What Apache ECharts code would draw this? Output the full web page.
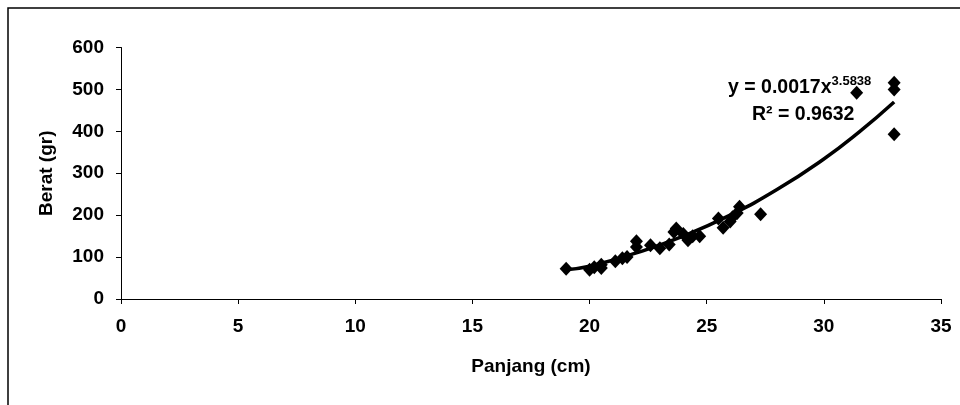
<!DOCTYPE html>
<html>
<head>
<meta charset="utf-8">
<script src="https://cdn.jsdelivr.net/npm/echarts@6/dist/echarts.min.js"></script>
<style>
  html, body { margin: 0; padding: 0; background: #fff; }
  #chart { width: 960px; height: 405px; }
</style>
</head>
<body>
<div id="chart"></div>
<script>
// Panjang (cm) vs Berat (gr)
const panjang = [19.0, 20.0, 20.2, 20.5, 20.5, 21.1, 21.4, 21.6, 22.0, 22.0, 22.6, 23.0, 23.4, 23.6, 23.7, 24.0, 24.2, 24.4, 24.7, 25.5, 25.7, 26.0, 26.1, 26.3, 26.4, 27.3, 31.4, 33.0, 33.0, 33.0]
const berat   = [72, 70, 76, 82, 74, 90, 97, 100, 138, 124, 128, 121, 130, 160, 168, 155, 140, 150, 150, 192, 170, 185, 195, 205, 220, 202, 492, 516, 500, 393]

// power trendline as drawn (y = 0.0017x^3.5838)
const trendX = [19, 20, 22, 24, 26, 28, 30, 31.5, 33]
const trendY = [70, 78, 110, 150, 200, 261, 334, 398, 470]

const xTicks = [0, 5, 10, 15, 20, 25, 30, 35]
const yTicks = [0, 100, 200, 300, 400, 500, 600]

const font = 'Liberation Sans, Arial, sans-serif'

// width of the equation text so the exponent sits right after it
const ctx = document.createElement('canvas').getContext('2d')
ctx.font = 'bold 19.5px Liberation Sans'
const eqWidth = ctx.measureText('y = 0.0017x').width

const chart = echarts.init(document.getElementById('chart'))

const option = {
  backgroundColor: '#fff',
  animation: false,
  grid: { left: 121, right: 19, top: 47.5, bottom: 106 },
  xAxis: {
    type: 'value',
    min: xTicks[0],
    max: xTicks[xTicks.length - 1],
    interval: 5,
    name: 'Panjang (cm)',
    nameLocation: 'middle',
    nameGap: 58,
    nameTextStyle: { color: '#000', fontSize: 19, fontWeight: 'bold', fontFamily: font },
    axisLine: { lineStyle: { color: '#000', width: 1 } },
    axisTick: { show: true, inside: false, length: 5, lineStyle: { color: '#000' } },
    axisLabel: { color: '#000', fontSize: 19, fontWeight: 'bold', fontFamily: font, margin: 18 },
    splitLine: { show: false }
  },
  yAxis: {
    type: 'value',
    min: yTicks[0],
    max: yTicks[yTicks.length - 1],
    interval: 100,
    name: 'Berat (gr)',
    nameLocation: 'middle',
    nameGap: 65,
    nameTextStyle: { color: '#000', fontSize: 19, fontWeight: 'bold', fontFamily: font },
    axisLine: { show: true, lineStyle: { color: '#000', width: 1 } },
    axisTick: { show: true, inside: false, length: 5, lineStyle: { color: '#000' } },
    axisLabel: { color: '#000', fontSize: 19, fontWeight: 'bold', fontFamily: font, margin: 17 },
    splitLine: { show: false }
  },
  series: [
    {
      type: 'line',
      data: trendX.map((x, i) => [x, trendY[i]]),
      smooth: true,
      symbol: 'none',
      lineStyle: { color: '#000', width: 3.5 },
      z: 2
    },
    {
      type: 'scatter',
      data: panjang.map((x, i) => [x, berat[i]]),
      symbol: 'diamond',
      symbolSize: [13, 14],
      itemStyle: { color: '#000', opacity: 1 },
      z: 3
    }
  ],
  graphic: [
    {
      type: 'rect',
      shape: { x: 8, y: 8, width: 1000, height: 450 },
      style: { fill: 'none', stroke: '#000', lineWidth: 1.5 },
      silent: true
    },
    {
      type: 'text',
      left: 728, top: 78,
      style: { text: 'y = 0.0017x', fill: '#000', fontSize: 19.5, fontWeight: 'bold', fontFamily: font }
    },
    {
      type: 'text',
      left: 728 + eqWidth, top: 75,
      style: { text: '3.5838', fill: '#000', fontSize: 13, fontWeight: 'bold', fontFamily: font }
    },
    {
      type: 'text',
      left: 752, top: 105,
      style: { text: 'R² = 0.9632', fill: '#000', fontSize: 19.5, fontWeight: 'bold', fontFamily: font }
    }
  ]
}

chart.setOption(option)
</script>
</body>
</html>
